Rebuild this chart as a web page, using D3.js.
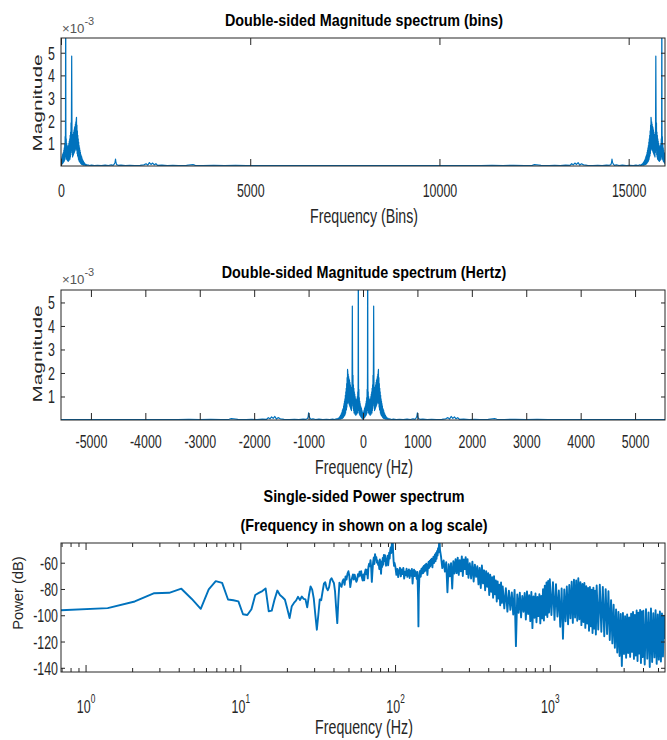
<!DOCTYPE html>
<html><head><meta charset="utf-8">
<script src="https://cdn.jsdelivr.net/npm/d3@7"></script>
<style>body{margin:0;background:#fff}</style>
</head><body>
<svg id="c" width="667" height="740"></svg>
<script>
// ---------------- DATA ----------------
const sampleRate = 11100;      // Hz
const nfft = 16000;            // number of FFT bins

// positive-frequency half of the magnitude spectrum (x 1e-3)
const magFreqHz = [0,4,8,12,16,20,24,28,32,36,40,44,48,52,56,60,64,68,72,76,
80,83,86,89,92,96,100,104,108,112,116,120,124,128,132,136,140,144,148,152,
156,160,164,168,172,176,180,184,188,192,196,200,204,208,212,216,220,224,228,232,
236,240,244,248,252,256,260,264,268,272,276,280,284,288,292,296,300,304,308,312,
316,320,324,328,332,336,340,344,348,352,356,360,364,368,372,376,380,385,390,395,
400,406,412,418,425,432,440,450,460,475,490,520,560,610,670,740,810,870,920,955,
975,990,1000,1008,1020,1045,1100,1180,1260,1350,1450,1520,1560,1590,1620,1650,1680,1710,1740,1770,
1850,1950,2050,2150,2300,2380,2420,2460,2600,2800,3000,3200,3400,3600,3800,4000,4300,4600,4900,5200,5550];
const magValue = [0.02,0.25,0.06,0.35,0.08,0.42,0.1,0.5,0.12,0.55,0.15,0.6,0.18,0.7,0.2,0.8,0.25,0.95,0.3,1.3,
0.45,2.2,9.0,2.0,0.4,1.2,0.3,1.0,0.35,0.9,0.25,0.85,0.3,0.8,0.2,0.9,0.3,1.0,0.25,1.1,
0.35,1.2,0.3,1.35,0.4,1.5,0.5,1.9,0.7,2.6,4.85,2.3,0.6,1.4,0.4,1.3,0.45,1.4,0.5,1.5,
0.55,1.6,0.6,1.7,0.65,1.75,0.7,1.85,0.75,1.95,0.8,2.05,2.15,0.7,1.8,0.55,1.55,0.45,1.35,0.4,
1.2,0.3,1.05,0.25,0.9,0.2,0.8,0.18,0.7,0.15,0.6,0.12,0.5,0.1,0.45,0.08,0.4,0.07,0.32,0.06,
0.26,0.05,0.2,0.04,0.15,0.04,0.1,0.03,0.07,0.02,0.05,0.02,0.04,0.02,0.03,0.015,0.04,0.02,0.05,0.03,
0.08,0.16,0.3,0.14,0.06,0.03,0.04,0.02,0.03,0.02,0.03,0.05,0.1,0.04,0.15,0.07,0.13,0.05,0.1,0.03,
0.04,0.02,0.03,0.02,0.03,0.05,0.06,0.03,0.02,0.03,0.02,0.03,0.015,0.02,0.015,0.02,0.015,0.02,0.015,0.02,0.015];

// single-sided power spectrum (dB)
const powFreqHz = [
0.69,1.39,2.08,2.78,3.47,4.16,4.86,5.55,6.25,6.94,
7.63,8.33,9.02,9.72,10.41,11.10,11.80,12.49,13.18,13.88,
14.57,15.27,15.96,16.66,17.35,18.04,18.74,19.43,20.12,20.82,
21.51,22.21,22.90,23.59,24.29,24.98,25.67,26.37,27.06,27.76,
28.45,29.14,29.84,30.53,31.23,31.92,32.61,33.31,34.00,34.70,
35.39,36.08,36.78,37.47,38.17,38.86,39.55,40.25,40.94,41.63,
42.33,43.02,43.72,44.41,45.10,45.80,46.49,47.19,47.88,48.57,
49.27,49.96,50.65,51.35,52.04,52.74,53.43,54.12,54.82,55.51,
56.21,56.90,57.59,58.29,58.98,59.67,60.37,61.06,61.76,62.45,
63.14,63.84,64.53,65.23,65.92,66.61,67.31,68.00,68.69,69.39,
70.08,70.78,71.47,72.16,72.86,73.55,74.25,74.94,75.63,76.33,
77.02,77.72,78.41,79.10,79.80,80.49,81.18,81.88,82.57,83.27,
83.96,84.65,85.35,86.04,86.74,87.43,88.12,88.82,89.51,90.21,
90.90,91.59,92.29,92.98,93.67,94.37,95.06,95.76,96.45,97.14,
97.84,98.53,99.23,
100.6,102.0,103.4,104.8,106.2,107.6,109.0,110.3,111.7,113.1,
114.5,115.9,117.3,118.7,120.1,121.5,122.9,124.2,125.6,127.0,
128.4,129.8,131.2,132.6,134.0,135.4,136.8,138.1,139.5,140.9,
141.6,142.3,143.7,145.1,146.5,147.9,149.3,150.7,152.0,153.4,
154.8,156.2,157.6,159.0,160.4,161.8,163.2,164.6,165.9,167.3,
168.7,170.1,171.5,172.9,174.3,175.7,177.1,178.5,179.9,181.2,
182.6,184.0,185.4,186.8,188.2,189.6,191.0,192.4,193.7,195.1,
198,202,206,210,214,218,222,226,230,234,
238,242,246,250,254,258,262,266,270,274,
278,282,286,290,294,298,
304,310,316,322,328,334,340,346,352,358,
364,370,376,382,388,394,400,406,412,418,
424,430,436,442,448,454,460,466,472,478,
484,490,496,
508,520,532,544,556,568,580,592,604,616,
628,640,652,664,676,688,700,712,724,736,
748,760,772,784,796,808,820,832,844,856,
868,880,892,904,916,928,940,952,964,976,
988,1000,
1024,1048,1072,1096,1120,1144,1168,1192,1216,1240,
1264,1288,1312,1336,1360,1384,1408,1432,1456,1480,
1504,1528,1552,1576,1600,1624,1648,1672,1696,1720,
1744,1768,1792,1816,1840,1864,1888,1912,1936,1960,
1984,2008,
2056,2104,2152,2200,2248,2296,2344,2392,2440,2488,
2536,2584,2632,2680,2728,2776,2824,2872,2920,2968,
3016,3064,3112,3160,3208,3256,3304,3352,3400,3448,
3496,3544,3592,3640,3688,3736,3784,3832,3880,3928,
3976,4024,
4104,4184,4264,4344,4424,4504,4584,4664,4744,4824,
4904,4984,5064,5144,5224,5304,5384,5464,5544];
const powDb = [
-96.2,-94.6,-89.5,-83.2,-82.9,-79.8,-87.6,-95.1,-80.3,-74.0,
-75.4,-88.0,-88.6,-89.4,-99.2,-99.8,-95.4,-84.6,-83.0,-81.6,
-79.6,-97.0,-96.5,-87.9,-81.2,-84.6,-86.3,-88.2,-95.0,-102.2,
-93.1,-90.6,-88.9,-86.0,-88.4,-85.7,-87.5,-87.9,-94.0,-84.8,
-78.1,-80.5,-87.3,-99.6,-111.0,-99.8,-87.9,-88.6,-82.1,-76.0,
-74.8,-79.3,-80.9,-78.6,-73.2,-71.8,-73.7,-75.4,-81.9,-94.7,
-106.0,-88.3,-75.2,-76.9,-78.4,-74.1,-72.6,-76.8,-70.4,-72.9,
-68.3,-66.5,-70.2,-78.6,-74.0,-71.5,-69.0,-72.8,-69.2,-71.8,
-74.6,-73.1,-68.7,-70.5,-66.9,-69.8,-66.4,-71.3,-73.5,-69.0,
-73.4,-67.6,-65.2,-68.8,-65.4,-71.9,-63.0,-60.7,-62.8,-58.1,
-63.5,-74.6,-66.2,-59.4,-56.1,-61.0,-53.5,-57.3,-55.8,-59.9,
-58.3,-61.7,-60.2,-64.8,-57.6,-62.1,-68.4,-59.0,-63.3,-56.4,
-61.5,-54.1,-58.8,-54.3,-56.9,-62.3,-57.8,-59.6,-54.7,-62.0,
-58.2,-52.4,-56.8,-50.9,-48.3,-52.7,-47.6,-43.0,-40.5,-52.0,
-58.6,-62.4,-60.1,
-63.5,-69.2,-64.8,-71.0,-66.1,-63.9,-70.4,-65.2,-68.7,-64.0,
-72.1,-66.9,-69.5,-64.6,-70.8,-67.3,-65.1,-71.6,-66.0,-69.9,
-64.7,-75.8,-67.4,-65.3,-70.2,-66.5,-68.9,-72.4,-67.0,-88.0,
-108.5,-84.0,-69.5,-66.2,-70.7,-64.8,-68.3,-63.6,-67.9,-62.4,
-66.8,-61.7,-65.9,-60.8,-64.2,-69.3,-62.7,-59.5,-64.0,-58.7,
-62.9,-57.8,-61.6,-56.9,-63.5,-58.2,-55.4,-60.3,-56.1,-53.7,
-58.9,-52.6,-57.0,-51.1,-54.6,-49.0,-52.2,-45.8,-41.5,-50.2,
-55.0,-64.1,-58.3,-66.8,-59.7,-82.5,-61.2,-70.4,-60.3,-79.6,
-58.9,-68.2,-57.4,-67.9,-56.1,-69.3,-58.0,-66.5,-55.2,-70.1,
-57.6,-64.9,-55.8,-68.7,-57.3,-71.5,
-60.4,-72.0,-59.2,-74.3,-61.5,-70.8,-62.7,-76.5,-63.9,-79.2,
-62.1,-75.7,-65.8,-81.0,-66.4,-78.3,-67.9,-84.6,-69.2,-82.1,
-71.0,-86.7,-70.3,-84.0,-73.6,-89.5,-74.2,-87.3,-76.8,-92.4,
-75.1,-90.6,-78.0,
-94.8,-79.5,-97.2,-81.3,-95.9,-82.6,-99.4,-80.7,-123.5,-84.2,
-98.1,-82.9,-101.6,-85.4,-97.3,-83.0,-103.2,-81.8,-99.0,-84.7,
-104.5,-82.3,-109.8,-85.6,-101.9,-83.4,-105.3,-86.1,-100.7,-84.0,
-106.2,-85.3,-102.4,-80.2,-104.0,-77.5,-99.6,-75.1,-101.3,-73.8,
-97.9,-72.6,
-99.8,-74.9,-103.5,-76.3,-101.0,-81.2,-108.7,-79.6,-117.9,-80.4,
-104.6,-78.1,-106.9,-77.0,-102.3,-74.5,-105.8,-72.9,-101.7,-73.6,
-104.2,-71.8,-103.0,-74.8,-107.5,-76.2,-105.1,-75.4,-109.6,-77.9,
-106.3,-79.2,-111.8,-78.5,-108.4,-80.6,-113.5,-79.0,-110.2,-81.4,
-114.7,-77.3,
-110.9,-76.8,-112.6,-78.4,-116.0,-80.1,-114.3,-81.7,-118.8,-88.5,
-121.4,-92.0,-124.7,-95.6,-128.3,-97.4,-131.0,-99.1,-138.6,-98.2,
-129.5,-100.7,-132.4,-99.3,-128.8,-101.6,-131.7,-98.8,-127.9,-97.5,
-133.2,-99.7,-130.6,-96.4,-134.8,-98.0,-129.1,-95.9,-136.3,-97.2,
-131.9,-96.6,
-137.5,-95.3,-133.0,-97.8,-139.4,-94.9,-135.6,-98.5,-132.1,-96.2,
-137.0,-99.4,-133.8,-97.1,-135.2,-98.6,-131.4,-100.3,-118.0];

// ticks
const binTicks = [0,5000,10000,15000];
const hzTicks = [-5000,-4000,-3000,-2000,-1000,0,1000,2000,3000,4000,5000];
const magTicks = [1,2,3,4,5];
const dbTicks = [-140,-120,-100,-80,-60];
const logMajor = [1,10,100,1000];
const logMinor = [0.7,0.8,0.9,2,3,4,5,6,7,8,9,20,30,40,50,60,70,80,90,200,300,400,500,600,700,800,900,2000,3000,4000,5000];

const titles = ["Double-sided Magnitude spectrum (bins)", "Double-sided Magnitude spectrum (Hertz)",
  "Single-sided Power spectrum", "(Frequency in shown on a log scale)"];

// ---------------- DRAW ----------------
const svg = d3.select("#c");
const FONT = "'Liberation Sans', Arial, Helvetica, sans-serif";
const INK = "#262626";
const LINE = "#0072BD";
const TICK_F = 18, TICK_SX = 0.69;

function hText(str, cx, by, size, sx, bold, fill) {
  return svg.append("text")
    .attr("transform", `translate(${cx},${by}) scale(${sx},1)`)
    .attr("text-anchor", "middle").attr("font-family", FONT)
    .attr("font-size", size).attr("font-weight", bold ? "bold" : "normal")
    .attr("fill", fill || INK).text(str);
}
function vText(str, bx, cy, size, along, across) {
  return svg.append("text")
    .attr("transform", `translate(${bx},${cy}) rotate(-90) scale(${along},${across})`)
    .attr("text-anchor", "middle").attr("font-family", FONT)
    .attr("font-size", size).attr("fill", INK).text(str);
}

let clipId = 0;
function frame(x, y, opt) {
  const [xl, xr] = x.range();
  const [yb, yt] = y.range();
  const id = "clip" + (clipId++);
  svg.append("clipPath").attr("id", id).append("rect")
    .attr("x", xl).attr("y", yt).attr("width", xr - xl).attr("height", yb - yt);
  const dataG = svg.append("g").attr("clip-path", `url(#${id})`);
  const axG = svg.append("g");
  const style = sel => {
    sel.select(".domain").remove();
    sel.selectAll("line").attr("stroke", INK).attr("stroke-width", 1);
    sel.attr("font-family", FONT).attr("font-size", TICK_F);
    sel.selectAll("text").attr("fill", INK);
  };
  const bAx = axG.append("g").attr("transform", `translate(0,${yb})`)
    .call(d3.axisBottom(x).tickValues(opt.xTicks).tickSizeInner(-7).tickSizeOuter(0).tickFormat(opt.xFmt || (d => String(d))));
  style(bAx);
  bAx.selectAll("text").attr("y", opt.xLabelDy).attr("dy", 0)
    .attr("transform", `scale(${TICK_SX},1)`);
  const tAx = axG.append("g").attr("transform", `translate(0,${yt})`)
    .call(d3.axisTop(x).tickValues(opt.xTicks).tickSizeInner(-7).tickSizeOuter(0).tickFormat(""));
  style(tAx);
  if (opt.xMinor) {
    [[yb, d3.axisBottom], [yt, d3.axisTop]].forEach(([yy, A]) => {
      const m = axG.append("g").attr("transform", `translate(0,${yy})`)
        .call(A(x).tickValues(opt.xMinor).tickSizeInner(-4).tickSizeOuter(0).tickFormat(""));
      style(m);
    });
  }
  const lAx = axG.append("g").attr("transform", `translate(${xl},0)`)
    .call(d3.axisLeft(y).tickValues(opt.yTicks).tickSizeInner(-4).tickSizeOuter(0).tickFormat(d => String(d)));
  style(lAx);
  lAx.selectAll("text").attr("x", -opt.yLabelPad / TICK_SX).attr("dy", "0.36em")
    .attr("transform", `scale(${TICK_SX},1)`);
  const rAx = axG.append("g").attr("transform", `translate(${xr},0)`)
    .call(d3.axisRight(y).tickValues(opt.yTicks).tickSizeInner(-4).tickSizeOuter(0).tickFormat(""));
  style(rAx);
  axG.append("rect").attr("x", xl).attr("y", yt).attr("width", xr - xl).attr("height", yb - yt)
    .attr("fill", "none").attr("stroke", INK).attr("stroke-width", 1);
  return { dataG, bAx };
}

function drawLine(g, pts, x, y, w) {
  g.append("path").datum(pts)
    .attr("d", d3.line().x(d => x(d[0])).y(d => y(d[1])))
    .attr("fill", "none").attr("stroke", LINE).attr("stroke-width", w)
    .attr("stroke-linejoin", "round");
}

function exponentLabel(xp, by) {
  const t = svg.append("text").attr("transform", `translate(${xp},${by}) scale(1.1,1)`)
    .attr("font-family", FONT).attr("fill", "#555");
  t.append("tspan").attr("font-size", 12).text("\u00d710");
  t.append("tspan").attr("font-size", 10).attr("dy", -8).text("-3");
}

// ---- Panel 1: bins ----
const binWidthHz = sampleRate / nfft;
const posBins = magFreqHz.map((f, i) => [f / binWidthHz, magValue[i]]);
const mirBins = posBins.slice(0, -1).reverse().map(d => [nfft - d[0], d[1]]);
const binSeries = posBins.concat(mirBins);

const x1 = d3.scaleLinear().domain([0, 15960]).range([61, 665]);
const y1 = d3.scaleLinear().domain([0, 5.65]).range([166, 38]);
const p1 = frame(x1, y1, { xTicks: binTicks, yTicks: magTicks, xLabelDy: 31, yLabelPad: 6 });
drawLine(p1.dataG, binSeries, x1, y1, 1.2);
hText(titles[0], 364, 26, 16.5, 0.87, true, "#000");
hText("Frequency (Bins)", 364, 223, 20, 0.71);
vText("Magnitude", 42, 103, 20.8, 1, 0.64);
exponentLabel(62, 33);

// ---- Panel 2: Hertz ----
const negHz = magFreqHz.slice(1).reverse().map((f, i) => [-f, magValue[magFreqHz.length - 1 - i]]);
const posHz = magFreqHz.map((f, i) => [f, magValue[i]]);
const hzSeries = negHz.concat(posHz);

const x2 = d3.scaleLinear().domain([-5550, 5550]).range([61, 665]);
const y2 = d3.scaleLinear().domain([0, 5.53]).range([420, 290]);
const p2 = frame(x2, y2, { xTicks: hzTicks, yTicks: magTicks, xLabelDy: 28, yLabelPad: 6 });
drawLine(p2.dataG, hzSeries, x2, y2, 1.2);
hText(titles[1], 364, 278, 16.5, 0.87, true, "#000");
hText("Frequency (Hz)", 364, 474, 20, 0.71);
vText("Magnitude", 42, 354, 20.8, 1, 0.64);
exponentLabel(62, 284);

// ---- Panel 3: power, log frequency ----
const powSeries = powFreqHz.map((f, i) => [f, powDb[i]]);
const x3 = d3.scaleLog().domain([0.694, 5550]).range([61, 665]);
const y3 = d3.scaleLinear().domain([-143.2, -45]).range([672, 543]);
const p3 = frame(x3, y3, { xTicks: logMajor, xMinor: logMinor, yTicks: dbTicks, xLabelDy: 41, yLabelPad: 3,
  xFmt: d => "" });
p3.bAx.selectAll(".tick text").each(function(d) {
  const t = d3.select(this);
  t.text("");
  t.append("tspan").text("10");
  t.append("tspan").attr("font-size", 12).attr("dy", -10).text(String(Math.round(Math.log10(d))));
});
drawLine(p3.dataG, powSeries, x3, y3, 1.9);
hText(titles[2], 364, 502, 16.5, 0.87, true, "#000");
hText(titles[3], 364, 531, 16.5, 0.87, true, "#000");
hText("Frequency (Hz)", 364, 734, 20, 0.71);
vText("Power (dB)", 23, 593, 17.5, 0.84, 0.8);
</script>
</body></html>
